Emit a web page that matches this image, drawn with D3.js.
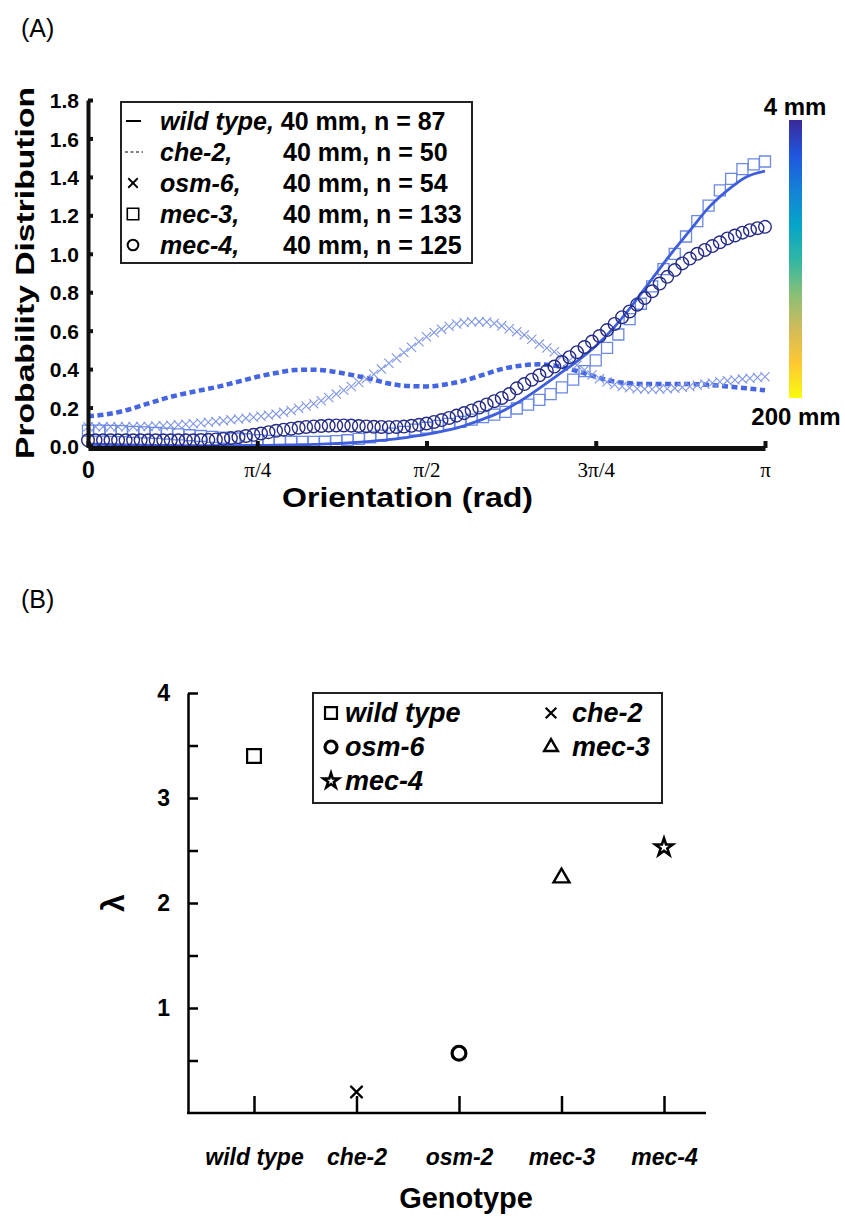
<!DOCTYPE html>
<html>
<head>
<meta charset="utf-8">
<script src="https://cdn.jsdelivr.net/npm/d3@7"></script>
<style>
    body { margin: 0; background: #fff; }
    svg text { font-family: "Liberation Sans", Arial, sans-serif; fill: #000; }
</style>
</head>
<body>
<svg id="figure" width="845" height="1216"></svg>
<script>
/***** Data */

// panel A: probability distribution against orientation, 40 mm
// sampling grids in degrees (0 .. 180 = 0 .. pi)
const anglesLine = d3.range(0, 181, 5);
const anglesMec3 = d3.range(0, 181, 3);
const anglesFine = d3.range(0, 181, 2);

const wildTypeValues = [0.01, 0.008, 0.006, 0.004, 0.003, 0.002, 0.002, 0.002, 0.002, 0.003,
    0.004, 0.006, 0.008, 0.012, 0.017, 0.024, 0.033, 0.045, 0.06, 0.08,
    0.105, 0.14, 0.18, 0.235, 0.3, 0.37, 0.44, 0.52, 0.62, 0.74,
    0.87, 1.0, 1.12, 1.24, 1.33, 1.4, 1.43];

const che2Values = [0.155, 0.165, 0.185, 0.215, 0.245, 0.27, 0.29, 0.31, 0.335, 0.36,
    0.38, 0.395, 0.397, 0.388, 0.37, 0.35, 0.325, 0.312, 0.31, 0.32,
    0.34, 0.37, 0.4, 0.418, 0.425, 0.415, 0.39, 0.36, 0.335, 0.325,
    0.322, 0.322, 0.322, 0.318, 0.31, 0.3, 0.29];

const osm6Values = [0.10, 0.10, 0.10, 0.10, 0.10, 0.10, 0.10, 0.101, 0.102, 0.104,
    0.105, 0.108, 0.11, 0.113, 0.116, 0.12, 0.124, 0.128, 0.132, 0.136,
    0.14, 0.145, 0.15, 0.155, 0.16, 0.167, 0.175, 0.185, 0.196, 0.208,
    0.22, 0.235, 0.252, 0.27, 0.29, 0.31, 0.33, 0.35, 0.373, 0.40,
    0.43, 0.458, 0.486, 0.514, 0.542, 0.568, 0.59, 0.608, 0.623, 0.635,
    0.642, 0.646, 0.647, 0.645, 0.637, 0.625, 0.61, 0.595, 0.578, 0.555,
    0.53, 0.51, 0.49, 0.468, 0.445, 0.42, 0.395, 0.37, 0.35, 0.333,
    0.32, 0.31, 0.303, 0.298, 0.296, 0.295, 0.296, 0.298, 0.301, 0.305,
    0.31, 0.316, 0.322, 0.328, 0.334, 0.34, 0.344, 0.348, 0.352, 0.356,
    0.36];

const mec3Values = [0.08, 0.08, 0.079, 0.077, 0.074, 0.071, 0.068, 0.064, 0.06, 0.056,
    0.052, 0.047, 0.043, 0.039, 0.035, 0.031, 0.027, 0.024, 0.022, 0.021,
    0.021, 0.022, 0.025, 0.03, 0.037, 0.045, 0.054, 0.064, 0.074, 0.085,
    0.095, 0.105, 0.115, 0.125, 0.137, 0.15, 0.163, 0.178, 0.195, 0.215,
    0.24, 0.27, 0.305, 0.345, 0.39, 0.445, 0.51, 0.58, 0.66, 0.74,
    0.83, 0.92, 1.0, 1.09, 1.17, 1.25, 1.33, 1.39, 1.44, 1.465,
    1.48];

const mec4Values = [0.03, 0.03, 0.03, 0.03, 0.03, 0.03, 0.03, 0.03, 0.03, 0.03,
    0.03, 0.03, 0.03, 0.03, 0.03, 0.031, 0.032, 0.034, 0.037, 0.041,
    0.046, 0.052, 0.058, 0.065, 0.072, 0.079, 0.085, 0.09, 0.095, 0.099,
    0.102, 0.104, 0.106, 0.107, 0.107, 0.106, 0.104, 0.102, 0.1, 0.099,
    0.098, 0.099, 0.101, 0.105, 0.11, 0.117, 0.125, 0.135, 0.146, 0.158,
    0.171, 0.185, 0.2, 0.216, 0.233, 0.25, 0.27, 0.30, 0.322, 0.345,
    0.368, 0.39, 0.413, 0.437, 0.462, 0.488, 0.515, 0.543, 0.572, 0.603,
    0.635, 0.67, 0.70, 0.735, 0.77, 0.805, 0.845, 0.88, 0.915, 0.95,
    0.975, 1.0, 1.02, 1.04, 1.06, 1.08, 1.095, 1.11, 1.123, 1.133,
    1.14];

const legendANames = ['wild type,', 'che-2,', 'osm-6,', 'mec-3,', 'mec-4,'];
const legendACounts = [87, 50, 54, 133, 125];
const yTicksA = d3.range(0, 1.81, 0.2);
const xTickLabelsA = ['0', 'π/4', 'π/2', '3π/4', 'π'];

// parula colours, 4 mm (top) to 200 mm (bottom)
const colorbarColors = ['#3a2a98', '#1f55e0', '#1481d6', '#06a4ca', '#2eb7a4', '#87bf77', '#d1bb59', '#fec832', '#f9fb0e'];

// panel B: lambda per genotype
const genotypes = ['wild type', 'che-2', 'osm-2', 'mec-3', 'mec-4'];
const lambdaValues = [3.4, 0.2, 0.57, 2.24, 2.53];
const legendBNames = ['wild type', 'che-2', 'osm-6', 'mec-3', 'mec-4'];
const yTicksB = d3.range(0.5, 4.01, 0.5);

/***** Helpers */

const svg = d3.select('#figure');
const rad = (deg) => deg * Math.PI / 180;

// open "x" marker, d3.symbol custom type
const symbolX = {
    draw(context, size) {
        const r = Math.sqrt(size) / 2;
        context.moveTo(-r, -r);
        context.lineTo(r, r);
        context.moveTo(-r, r);
        context.lineTo(r, -r);
    }
};

/***** Panel A */

const xA = d3.scaleLinear().domain([0, Math.PI]).range([88, 765]);
const yA = d3.scaleLinear().domain([0, 1.8]).range([446, 100]);

svg.append('text')
    .attr('x', 21)
    .attr('y', 37)
    .style('font-size', '25px')
    .text('(A)');

const panelA = svg.append('g').attr('class', 'panelA');

const drawLine = (values, angles, color, width, dash) => {
    const line = d3.line()
        .x((v, i) => xA(rad(angles[i])))
        .y(v => yA(v))
        .curve(d3.curveMonotoneX);
    panelA.append('path')
        .datum(values)
        .attr('d', line)
        .attr('fill', 'none')
        .attr('stroke', color)
        .attr('stroke-width', width)
        .attr('stroke-dasharray', dash);
}

const drawMarkers = (values, angles, type, size, color, width) => {
    panelA.append('g')
        .selectAll('path')
        .data(values)
        .enter()
        .append('path')
        .attr('d', d3.symbol(type, size))
        .attr('transform', (v, i) => `translate(${xA(rad(angles[i]))},${yA(v)})`)
        .attr('fill', 'none')
        .attr('stroke', color)
        .attr('stroke-width', width);
}

drawLine(che2Values, anglesLine, '#4565e2', 4.5, '6,3.5');
drawMarkers(osm6Values, anglesFine, symbolX, 85, '#7f96e8', 1.1);
drawMarkers(mec3Values, anglesMec3, d3.symbolSquare, 121, '#6a88e6', 1.3);
drawLine(wildTypeValues, anglesLine, '#3f5edd', 2.8, null);
drawMarkers(mec4Values, anglesFine, d3.symbolCircle, 125, '#262c86', 1.4);

// axes
const yAxisA = panelA.append('g')
    .attr('transform', `translate(${xA(0)},0)`)
    .call(d3.axisLeft(yA)
        .tickValues(yTicksA)
        .tickFormat(d3.format('.1f'))
        .tickSize(-5)
        .tickSizeOuter(0)
        .tickPadding(9));
yAxisA.select('.domain').attr('stroke', '#111').attr('stroke-width', 4);
yAxisA.selectAll('.tick line').attr('stroke', '#111').attr('stroke-width', 4);
yAxisA.selectAll('.tick text')
    .style('font-size', '21px')
    .style('font-weight', 'bold')
    .attr('dy', '0.36em');

const xAxisA = panelA.append('g')
    .attr('transform', `translate(0,${yA(0) + 2})`)
    .call(d3.axisBottom(xA)
        .tickValues([0, Math.PI / 4, Math.PI / 2, 3 * Math.PI / 4, Math.PI])
        .tickFormat((d, i) => xTickLabelsA[i])
        .tickSize(-7)
        .tickSizeOuter(0)
        .tickPadding(14));
xAxisA.select('.domain').attr('stroke', '#111').attr('stroke-width', 5);
xAxisA.selectAll('.tick line').attr('stroke', '#111').attr('stroke-width', 4);
xAxisA.selectAll('.tick text')
    .style('font-family', (d, i) => i === 0 ? '"Liberation Sans", Arial, sans-serif' : '"Liberation Serif", "Times New Roman", serif')
    .style('font-size', (d, i) => i === 0 ? '23px' : '21px')
    .style('font-weight', (d, i) => i === 0 ? 'bold' : 'normal');

panelA.append('text')
    .attr('transform', `translate(34,${yA(0.9)}) rotate(-90)`)
    .attr('text-anchor', 'middle')
    .attr('textLength', 372)
    .attr('lengthAdjust', 'spacingAndGlyphs')
    .style('font-size', '25px')
    .style('font-weight', 'bold')
    .text('Probability Distribution');

panelA.append('text')
    .attr('x', xA(Math.PI / 2) - 19)
    .attr('y', 507)
    .attr('text-anchor', 'middle')
    .attr('textLength', 251)
    .attr('lengthAdjust', 'spacingAndGlyphs')
    .style('font-size', '28px')
    .style('font-weight', 'bold')
    .text('Orientation (rad)');

// legend
const legendA = panelA.append('g');
legendA.append('rect')
    .attr('x', 121)
    .attr('y', 102)
    .attr('width', 351)
    .attr('height', 161)
    .attr('fill', '#fff')
    .attr('stroke', '#222')
    .attr('stroke-width', 2);

const legendARowY = (i) => 121 + i * 31;

legendA.append('line')
    .attr('x1', 126).attr('x2', 141)
    .attr('y1', legendARowY(0)).attr('y2', legendARowY(0))
    .attr('stroke', '#000').attr('stroke-width', 2);
legendA.append('line')
    .attr('x1', 125).attr('x2', 143)
    .attr('y1', legendARowY(1)).attr('y2', legendARowY(1))
    .attr('stroke', '#000').attr('stroke-width', 1)
    .attr('stroke-dasharray', '3,2.5');
legendA.append('path')
    .attr('d', d3.symbol(symbolX, 90))
    .attr('transform', `translate(133,${legendARowY(2)})`)
    .attr('fill', 'none').attr('stroke', '#000').attr('stroke-width', 1.8);
legendA.append('path')
    .attr('d', d3.symbol(d3.symbolSquare, 130))
    .attr('transform', `translate(133,${legendARowY(3)})`)
    .attr('fill', 'none').attr('stroke', '#000').attr('stroke-width', 1.6);
legendA.append('path')
    .attr('d', d3.symbol(d3.symbolCircle, 90))
    .attr('transform', `translate(133,${legendARowY(4)})`)
    .attr('fill', 'none').attr('stroke', '#000').attr('stroke-width', 2);

legendANames.forEach((name, i) => {
    const row = legendA.append('text')
        .attr('x', 160)
        .attr('y', legendARowY(i) + 9)
        .style('font-size', '25px')
        .style('font-weight', 'bold');
    row.append('tspan')
        .style('font-style', 'italic')
        .text(name);
    const rest = row.append('tspan')
        .text(`${i === 0 ? ' ' : ''}40 mm, n = ${legendACounts[i]}`);
    if (i > 0) {
        rest.attr('x', 283);
    }
});

// colour bar
const gradient = svg.append('defs')
    .append('linearGradient')
    .attr('id', 'colorbarGradient')
    .attr('x1', 0).attr('x2', 0)
    .attr('y1', 0).attr('y2', 1);
gradient.selectAll('stop')
    .data(colorbarColors)
    .enter()
    .append('stop')
    .attr('offset', (c, i) => i / (colorbarColors.length - 1))
    .attr('stop-color', c => c);

svg.append('rect')
    .attr('x', 789)
    .attr('y', 120)
    .attr('width', 13)
    .attr('height', 278)
    .attr('fill', 'url(#colorbarGradient)');

svg.append('text')
    .attr('x', 795).attr('y', 115)
    .attr('text-anchor', 'middle')
    .style('font-size', '24px').style('font-weight', 'bold')
    .text('4 mm');
svg.append('text')
    .attr('x', 796).attr('y', 425)
    .attr('text-anchor', 'middle')
    .style('font-size', '24px').style('font-weight', 'bold')
    .text('200 mm');

/***** Panel B */

svg.append('text')
    .attr('x', 21)
    .attr('y', 608)
    .style('font-size', '25px')
    .text('(B)');

const xB = d3.scalePoint().domain(genotypes).range([254, 664]);
const yB = d3.scaleLinear().domain([0, 4]).range([1113, 693]);
const xAxisLeftB = 188;
const xAxisRightB = 706;

const symbolTypesB = [d3.symbolSquare, symbolX, d3.symbolCircle, d3.symbolTriangle, d3.symbolStar];
const symbolSizesB = [190, 150, 150, 110, 95];
const symbolWidthsB = [2.2, 2.2, 3.2, 2.4, 2.6];

const panelB = svg.append('g').attr('class', 'panelB');

const yAxisB = panelB.append('g')
    .attr('transform', `translate(${xAxisLeftB},0)`)
    .call(d3.axisLeft(yB)
        .tickValues(yTicksB)
        .tickFormat(d => Number.isInteger(d) ? d : '')
        .tickSize(-10)
        .tickSizeOuter(0)
        .tickPadding(18));
yAxisB.select('.domain').attr('stroke', '#000').attr('stroke-width', 2.5);
yAxisB.selectAll('.tick line').attr('stroke', '#000').attr('stroke-width', 2.5);
yAxisB.selectAll('.tick text')
    .style('font-size', '23px')
    .style('font-weight', 'bold');

// x axis: line across the plot plus upward category ticks
panelB.append('line')
    .attr('x1', xAxisLeftB - 1).attr('x2', xAxisRightB)
    .attr('y1', yB(0)).attr('y2', yB(0))
    .attr('stroke', '#000').attr('stroke-width', 2.5);
const xAxisB = panelB.append('g')
    .attr('transform', `translate(0,${yB(0)})`)
    .call(d3.axisBottom(xB)
        .tickSize(-17)
        .tickSizeOuter(0)
        .tickPadding(36));
xAxisB.select('.domain').remove();
xAxisB.selectAll('.tick line').attr('stroke', '#000').attr('stroke-width', 2.5);
xAxisB.selectAll('.tick text')
    .style('font-size', '23px')
    .style('font-weight', 'bold')
    .style('font-style', 'italic');

panelB.append('text')
    .attr('x', 466)
    .attr('y', 1208)
    .attr('text-anchor', 'middle')
    .style('font-size', '29px')
    .style('font-weight', 'bold')
    .text('Genotype');

panelB.append('text')
    .attr('transform', `translate(124,${yB(2)}) rotate(-90)`)
    .attr('text-anchor', 'middle')
    .style('font-size', '32px')
    .style('font-weight', 'bold')
    .text('λ');

panelB.selectAll('.point')
    .data(lambdaValues)
    .enter()
    .append('path')
    .attr('class', 'point')
    .attr('d', (v, i) => d3.symbol(symbolTypesB[i], symbolSizesB[i])())
    .attr('transform', (v, i) => `translate(${xB(genotypes[i])},${yB(v)})`)
    .attr('fill', '#fff')
    .attr('stroke', '#000')
    .attr('stroke-width', (v, i) => symbolWidthsB[i]);

// legend
const legendB = panelB.append('g');
legendB.append('rect')
    .attr('x', 313)
    .attr('y', 693)
    .attr('width', 349)
    .attr('height', 110)
    .attr('fill', 'none')
    .attr('stroke', '#222')
    .attr('stroke-width', 2);

const legendBCol = (i) => i % 2 === 0 ? 331 : 551;
const legendBRow = (i) => 713 + Math.floor(i / 2) * 34;

legendBNames.forEach((name, i) => {
    legendB.append('path')
        .attr('d', d3.symbol(symbolTypesB[i], symbolSizesB[i] * 0.75))
        .attr('transform', `translate(${legendBCol(i)},${legendBRow(i)})`)
        .attr('fill', '#fff')
        .attr('stroke', '#000')
        .attr('stroke-width', symbolWidthsB[i]);
    legendB.append('text')
        .attr('x', legendBCol(i) + (i % 2 === 0 ? 14 : 21))
        .attr('y', legendBRow(i) + 9)
        .style('font-size', '27px')
        .style('font-weight', 'bold')
        .style('font-style', 'italic')
        .text(name);
});
</script>
</body>
</html>
